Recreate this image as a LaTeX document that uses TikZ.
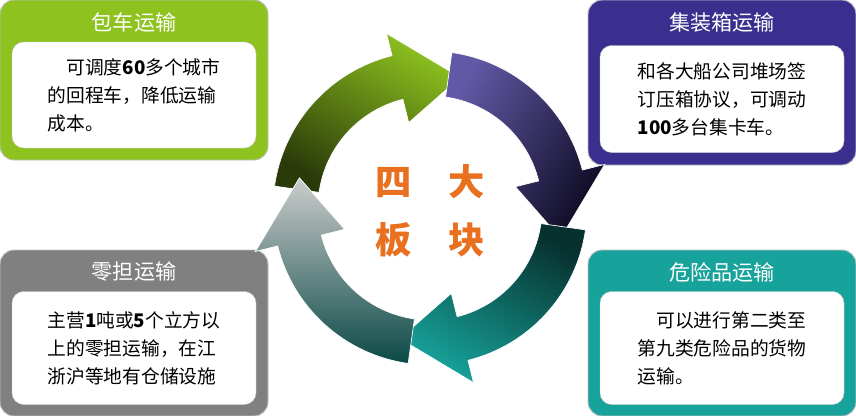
\documentclass[tikz,border=0pt]{standalone}
\usepackage{fontspec}
\setmainfont{Noto Sans CJK SC}
\usetikzlibrary{positioning}
\definecolor{cgreen}{HTML}{8DC21F}
\definecolor{cnavy}{HTML}{3A2F8F}
\definecolor{cgray}{HTML}{808080}
\definecolor{cteal}{HTML}{17A39B}
\definecolor{corange}{HTML}{E8701F}
\tikzset{
	outer box/.style={rounded corners=12pt,draw=black!25,line width=0.8pt},
	inner box/.style={rounded corners=10pt,fill=white,draw=black!20},
	head text/.style={text=white,font=\fontsize{18}{20}\selectfont},
	body text/.style={align=left,font=\fontsize{16}{24}\selectfont},
	big text/.style={text=corange,font=\fontsize{31}{36}\selectfont\bfseries}
}
\newcommand{\ringarrow}[2]{%
  \path[draw=white,line width=0.6pt,#2] (#1:112) -- (#1:157) arc[start angle=#1,end angle=#1-68,radius=157]
    -- (#1-68:180) -- (#1-95:134) -- (#1-68:88) -- (#1-68:112)
    arc[start angle=#1-68,end angle=#1,radius=112] -- cycle;}
\begin{document}
\begin{tikzpicture}[x=0.03cm,y=-0.03cm]
\useasboundingbox (0,0) rectangle (856,416);
% boxes
\fill[cgreen,outer box] (0,0) rectangle (268,160);
\fill[cnavy,outer box] (588,0) rectangle (856,165);
\fill[cgray,outer box] (0,250) rectangle (268,416);
\fill[cteal,outer box] (588,250) rectangle (856,416);
\node[inner box,minimum width=244*0.03cm,minimum height=106*0.03cm] (b1) at (134,95) {};
\node[inner box,minimum width=244*0.03cm,minimum height=107*0.03cm] (b2) at (722,99) {};
\node[inner box,minimum width=244*0.03cm,minimum height=113*0.03cm] (b3) at (134,348) {};
\node[inner box,minimum width=244*0.03cm,minimum height=113*0.03cm] (b4) at (722,348) {};
\node[head text] (h1) at (134,22) {包车运输};
\node[head text] (h2) at (722,22) {集装箱运输};
\node[head text] (h3) at (134,272) {零担运输};
\node[head text] (h4) at (722,272) {危险品运输};
\node[body text] (t1) at (b1) {\hspace{1em}可调度\textbf{60}多个城市\\的回程车，降低运输\\成本。};
\node[body text] (t2) at (b2) {和各大船公司堆场签\\订压箱协议，可调动\\\textbf{100}多台集卡车。};
\node[body text] (t3) at (b3) {主营\textbf{1}吨或\textbf{5}个立方以\\上的零担运输，在江\\浙沪等地有仓储设施};
\node[body text] (t4) at (b4) {\hspace{1em}可以进行第二类至\\第九类危险品的货物\\运输。};
% ring
\begin{scope}[shift={(430,208)},yscale=-1]
\ringarrow{172}{top color=cgreen,bottom color=black!70!cgreen,shading angle=-30}
\ringarrow{82}{top color=cnavy!80,bottom color=black!75!cnavy,shading angle=60}
\ringarrow{-8}{top color=cteal,bottom color=black!70!cteal,shading angle=150}
\ringarrow{-98}{top color=white!60!cgray,bottom color=black!55!cteal,shading angle=0}
\end{scope}
\node[big text] (c1) at (430,182) {四\hspace{1em}大};
\node[big text] (c2) at (430,240) {板\hspace{1em}块};
\end{tikzpicture}
\end{document}
